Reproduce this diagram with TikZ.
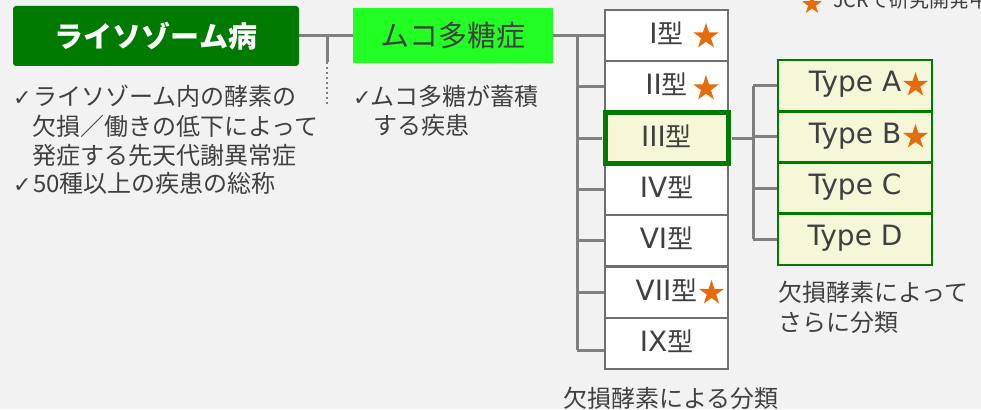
\documentclass[tikz,border=0pt]{standalone}
\usepackage{fontspec}
\newfontfamily\jp{Noto Sans CJK JP}
\newfontfamily\lat{DejaVu Sans}
\usetikzlibrary{shapes.geometric}
\definecolor{bg}{HTML}{F2F2F2}
\definecolor{dgreen}{HTML}{007A00}
\definecolor{lgreen}{HTML}{22FF22}
\definecolor{tgray}{HTML}{404040}
\definecolor{lgray}{HTML}{808080}
\definecolor{bgray}{HTML}{707070}
\definecolor{cream}{HTML}{F6F6D8}
\definecolor{jorange}{HTML}{E46C0A}
\newcommand\chkmark[1]{\makebox[#1][l]{\lat\fontsize{22}{22}\selectfont ✓}}
\newcommand\rom[1]{{\lat\fontsize{28}{28}\selectfont #1}}
\tikzset{
  lybox/.style={fill=dgreen, rounded corners=3pt, minimum width=286pt, minimum height=60pt, inner sep=0pt, text=white, font=\jp\bfseries\fontsize{29}{29}\selectfont},
  mubox/.style={fill=lgreen, minimum width=200pt, minimum height=55pt, inner sep=0pt, text=tgray, font=\jp\fontsize{29}{29}\selectfont},
  rowbox/.style={draw=bgray, line width=2.5pt, fill=white, minimum width=123pt, minimum height=51.3pt, inner sep=0pt, text=tgray, font=\jp\fontsize{26}{26}\selectfont, text height=20pt, text depth=4pt},
  selbox/.style={rowbox, draw=dgreen, line width=5pt, fill=cream},
  typebox/.style={draw=dgreen, line width=2.5pt, fill=cream, minimum width=154pt, minimum height=51.25pt, inner sep=0pt, text=tgray, font=\lat\fontsize{28}{28}\selectfont, text height=20pt, text depth=7.6pt},
  jstar/.style={star, star points=5, star point ratio=2.6, fill=jorange, inner sep=0pt, minimum size=#1},
  jstar/.default=26pt,
  conn/.style={draw=lgray, line width=3pt},
  note/.style={inner sep=0pt, anchor=west, text=tgray, font=\jp\fontsize{24}{29}\selectfont, text height=21pt, text depth=3pt}
}
\begin{document}
\begin{tikzpicture}[x=1pt,y=-1pt]
\useasboundingbox (0,0) rectangle (981,409);
\fill[bg] (0,0) rectangle (981,409);
\clip (0,0) rectangle (981,409);

% title boxes
\node[lybox] (lyso) at (156,36) {ライソゾーム病};
\node[mubox] (muco) at (453,35.5) {ムコ多糖症\hspace{12pt}};

% type rows
\node[rowbox] (t1) at (666.5,35.6) {\rom{I}型};
\node[rowbox] (t2) at (666.5,86.9) {\rom{II}型};
\node[rowbox] (t4) at (666.5,189.5) {\rom{IV}型};
\node[rowbox] (t6) at (666.5,240.8) {\rom{VI}型};
\node[rowbox] (t7) at (666.5,292.1) {\rom{VII}型};
\node[rowbox] (t9) at (666.5,343.4) {\rom{IX}型};
\node[selbox] (t3) at (666.5,138.2) {\rom{III}型};

% subtype boxes
\node[typebox] (ta) at (855,85.6) {Type A};
\node[typebox] (tb) at (855,136.9) {Type B};
\node[typebox] (tc) at (855,188.1) {Type C};
\node[typebox] (td) at (855,239.4) {Type D};

% connectors
\coordinate (j1) at (327,36);
\coordinate (j2) at (327,62);
\coordinate (j3) at (327,106);
\draw[conn] (lyso.east) -- (lyso.east -| muco.west);
\draw[conn] (j1) -- (j2);
\draw[lgray, line width=2.5pt, dash pattern=on 2.5pt off 2.5pt] (j2) -- (j3);

\coordinate (v1) at (577,0);
\draw[conn] (muco.east) -- (muco.east -| t1.west);
\draw[conn] (muco.east -| v1) -- ([yshift=-7pt]t9.west -| v1);
\draw[conn] (t2.west -| v1) -- (t2.west);
\draw[conn] (t3.west -| v1) -- ([xshift=-1pt]t3.west);
\draw[conn] (t4.west -| v1) -- (t4.west);
\draw[conn] (t6.west -| v1) -- (t6.west);
\draw[conn] (t7.west -| v1) -- (t7.west);
\draw[conn] ([yshift=-7pt]t9.west -| v1) -- ([yshift=-7pt]t9.west);

\coordinate (v2) at (753,0);
\draw[conn] ([xshift=1pt]t3.east) -- (t3.east -| v2);
\draw[conn] (ta.west -| v2) -- (td.west -| v2);
\draw[conn] (ta.west -| v2) -- (ta.west);
\draw[conn] (tb.west -| v2) -- (tb.west);
\draw[conn] (tc.west -| v2) -- (tc.west);
\draw[conn] (td.west -| v2) -- (td.west);

% stars
\node[jstar=27pt] (s1) at (706,36.5) {};
\node[jstar=27pt] (s2) at (706,88.5) {};
\node[jstar] (s7) at (711.5,293) {};
\node[jstar] (sa) at (915.5,85) {};
\node[jstar] (sb) at (915.5,137) {};

% legend
\node[jstar=21pt] (ls) at (812,4.5) {};
\node[inner sep=0pt, anchor=base west, text=tgray, font=\jp\fontsize{20}{20}\selectfont] (lt) at (833,8) {JCRで研究開発中};

% notes
\node[note] (n1) at (13,96.5) {\chkmark{20pt}ライソゾーム内の酵素の};
\node[note] (n2) at (32,126) {欠損／働きの低下によって};
\node[note] (n3) at (32,155) {発症する先天代謝異常症};
\node[note] (n4) at (13,183.5) {\chkmark{20pt}50種以上の疾患の総称};
\node[note] (m1) at (353,97) {\chkmark{17pt}ムコ多糖が蓄積};
\node[note] (m2) at (373,125) {する疾患};
\node[note] (r1) at (778,292.5) {欠損酵素によって};
\node[note] (r2) at (778,322) {さらに分類};
\node[note] (b1) at (563,398) {欠損酵素による分類};
\end{tikzpicture}
\end{document}
